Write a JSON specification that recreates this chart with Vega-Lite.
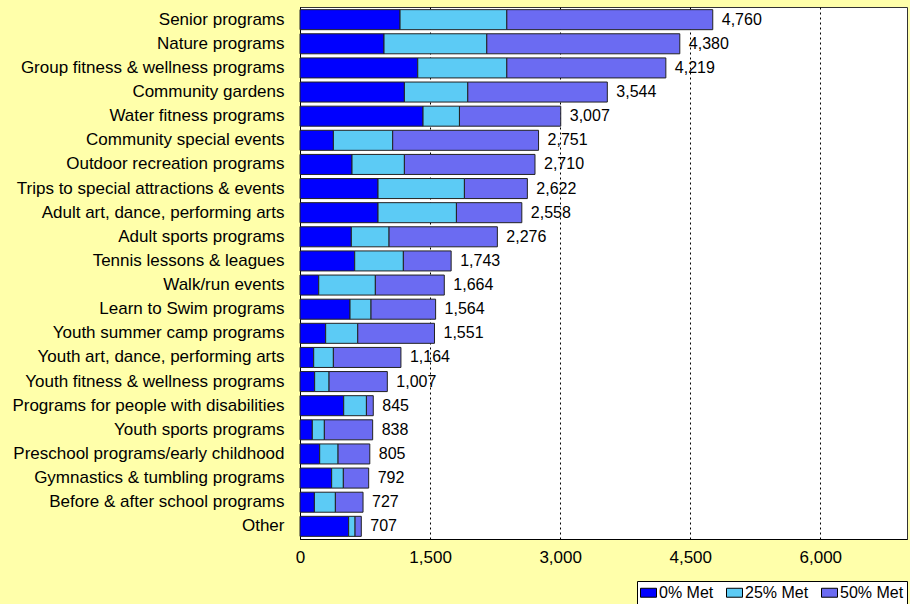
{
  "$schema": "https://vega.github.io/schema/vega-lite/v6.json",
  "width": 607,
  "height": 532,
  "autosize": {"type": "none"},
  "padding": {"left": 300, "top": 7, "right": 3, "bottom": 65},
  "background": "#FFFFAA",
  "config": {
    "font": "Liberation Sans",
    "view": {"fill": "white", "stroke": "#333333", "strokeWidth": 1}
  },
  "data": {
    "values": [
      {"program": "Senior programs", "met": "0% Met", "value": 1154},
      {"program": "Senior programs", "met": "25% Met", "value": 1231},
      {"program": "Senior programs", "met": "50% Met", "value": 2375},
      {"program": "Nature programs", "met": "0% Met", "value": 969},
      {"program": "Nature programs", "met": "25% Met", "value": 1185},
      {"program": "Nature programs", "met": "50% Met", "value": 2226},
      {"program": "Group fitness & wellness programs", "met": "0% Met", "value": 1358},
      {"program": "Group fitness & wellness programs", "met": "25% Met", "value": 1027},
      {"program": "Group fitness & wellness programs", "met": "50% Met", "value": 1834},
      {"program": "Community gardens", "met": "0% Met", "value": 1204},
      {"program": "Community gardens", "met": "25% Met", "value": 731},
      {"program": "Community gardens", "met": "50% Met", "value": 1609},
      {"program": "Water fitness programs", "met": "0% Met", "value": 1419},
      {"program": "Water fitness programs", "met": "25% Met", "value": 420},
      {"program": "Water fitness programs", "met": "50% Met", "value": 1168},
      {"program": "Community special events", "met": "0% Met", "value": 385},
      {"program": "Community special events", "met": "25% Met", "value": 684},
      {"program": "Community special events", "met": "50% Met", "value": 1682},
      {"program": "Outdoor recreation programs", "met": "0% Met", "value": 600},
      {"program": "Outdoor recreation programs", "met": "25% Met", "value": 604},
      {"program": "Outdoor recreation programs", "met": "50% Met", "value": 1506},
      {"program": "Trips to special attractions & events", "met": "0% Met", "value": 900},
      {"program": "Trips to special attractions & events", "met": "25% Met", "value": 996},
      {"program": "Trips to special attractions & events", "met": "50% Met", "value": 726},
      {"program": "Adult art, dance, performing arts", "met": "0% Met", "value": 900},
      {"program": "Adult art, dance, performing arts", "met": "25% Met", "value": 904},
      {"program": "Adult art, dance, performing arts", "met": "50% Met", "value": 754},
      {"program": "Adult sports programs", "met": "0% Met", "value": 592},
      {"program": "Adult sports programs", "met": "25% Met", "value": 435},
      {"program": "Adult sports programs", "met": "50% Met", "value": 1249},
      {"program": "Tennis lessons & leagues", "met": "0% Met", "value": 631},
      {"program": "Tennis lessons & leagues", "met": "25% Met", "value": 561},
      {"program": "Tennis lessons & leagues", "met": "50% Met", "value": 551},
      {"program": "Walk/run events", "met": "0% Met", "value": 216},
      {"program": "Walk/run events", "met": "25% Met", "value": 653},
      {"program": "Walk/run events", "met": "50% Met", "value": 795},
      {"program": "Learn to Swim programs", "met": "0% Met", "value": 577},
      {"program": "Learn to Swim programs", "met": "25% Met", "value": 242},
      {"program": "Learn to Swim programs", "met": "50% Met", "value": 745},
      {"program": "Youth summer camp programs", "met": "0% Met", "value": 296},
      {"program": "Youth summer camp programs", "met": "25% Met", "value": 370},
      {"program": "Youth summer camp programs", "met": "50% Met", "value": 885},
      {"program": "Youth art, dance, performing arts", "met": "0% Met", "value": 158},
      {"program": "Youth art, dance, performing arts", "met": "25% Met", "value": 227},
      {"program": "Youth art, dance, performing arts", "met": "50% Met", "value": 779},
      {"program": "Youth fitness & wellness programs", "met": "0% Met", "value": 169},
      {"program": "Youth fitness & wellness programs", "met": "25% Met", "value": 166},
      {"program": "Youth fitness & wellness programs", "met": "50% Met", "value": 672},
      {"program": "Programs for people with disabilities", "met": "0% Met", "value": 504},
      {"program": "Programs for people with disabilities", "met": "25% Met", "value": 262},
      {"program": "Programs for people with disabilities", "met": "50% Met", "value": 79},
      {"program": "Youth sports programs", "met": "0% Met", "value": 142},
      {"program": "Youth sports programs", "met": "25% Met", "value": 139},
      {"program": "Youth sports programs", "met": "50% Met", "value": 557},
      {"program": "Preschool programs/early childhood", "met": "0% Met", "value": 227},
      {"program": "Preschool programs/early childhood", "met": "25% Met", "value": 212},
      {"program": "Preschool programs/early childhood", "met": "50% Met", "value": 366},
      {"program": "Gymnastics & tumbling programs", "met": "0% Met", "value": 365},
      {"program": "Gymnastics & tumbling programs", "met": "25% Met", "value": 135},
      {"program": "Gymnastics & tumbling programs", "met": "50% Met", "value": 292},
      {"program": "Before & after school programs", "met": "0% Met", "value": 166},
      {"program": "Before & after school programs", "met": "25% Met", "value": 242},
      {"program": "Before & after school programs", "met": "50% Met", "value": 319},
      {"program": "Other", "met": "0% Met", "value": 561},
      {"program": "Other", "met": "25% Met", "value": 74},
      {"program": "Other", "met": "50% Met", "value": 72}
    ]
  },
  "encoding": {
    "y": {
      "field": "program",
      "type": "nominal",
      "sort": null,
      "scale": {"paddingInner": 0.17, "paddingOuter": 0.11},
      "axis": {
        "title": null,
        "ticks": false,
        "labelPadding": 16,
        "labelFontSize": 17,
        "labelColor": "black",
        "labelLimit": 0,
        "domainColor": "black",
        "domainWidth": 1
      }
    },
    "x": {
      "field": "value",
      "type": "quantitative",
      "aggregate": "sum",
      "scale": {"domain": [0, 7000], "nice": false},
      "axis": {
        "title": null,
        "values": [0, 1500, 3000, 4500, 6000],
        "format": ",.0f",
        "ticks": false,
        "labelFlush": false,
        "labelPadding": 10,
        "labelFontSize": 17,
        "labelColor": "black",
        "domainColor": "black",
        "grid": true,
        "gridColor": "black",
        "gridDash": [2, 3],
        "gridWidth": 1
      }
    }
  },
  "layer": [
    {
      "mark": {"type": "bar", "stroke": "#222222", "strokeWidth": 1},
      "encoding": {
        "x": {
          "field": "value",
          "type": "quantitative",
          "aggregate": "sum",
          "stack": "zero"
        },
        "color": {
          "field": "met",
          "type": "nominal",
          "scale": {
            "domain": ["0% Met", "25% Met", "50% Met"],
            "range": ["#0000FF", "#5CCBF5", "#6B6BF2"]
          },
          "legend": {
            "title": null,
            "orient": "none",
            "legendX": 337,
            "legendY": 574,
            "direction": "horizontal",
            "fillColor": "white",
            "strokeColor": "black",
            "padding": 3,
            "symbolType": "M-1,-0.56L1,-0.56L1,0.56L-1,0.56Z",
            "symbolSize": 256,
            "symbolStrokeColor": "black",
            "symbolStrokeWidth": 1,
            "symbolOpacity": 1,
            "labelFontSize": 16,
            "labelColor": "black",
            "labelOffset": 2,
            "columnPadding": 10
          }
        },
        "order": {"field": "met", "type": "nominal", "sort": "ascending"}
      }
    },
    {
      "mark": {"type": "text", "align": "left", "baseline": "middle", "dx": 9, "fontSize": 16, "color": "black"},
      "encoding": {
        "text": {"field": "value", "type": "quantitative", "aggregate": "sum", "format": ","}
      }
    }
  ]
}
